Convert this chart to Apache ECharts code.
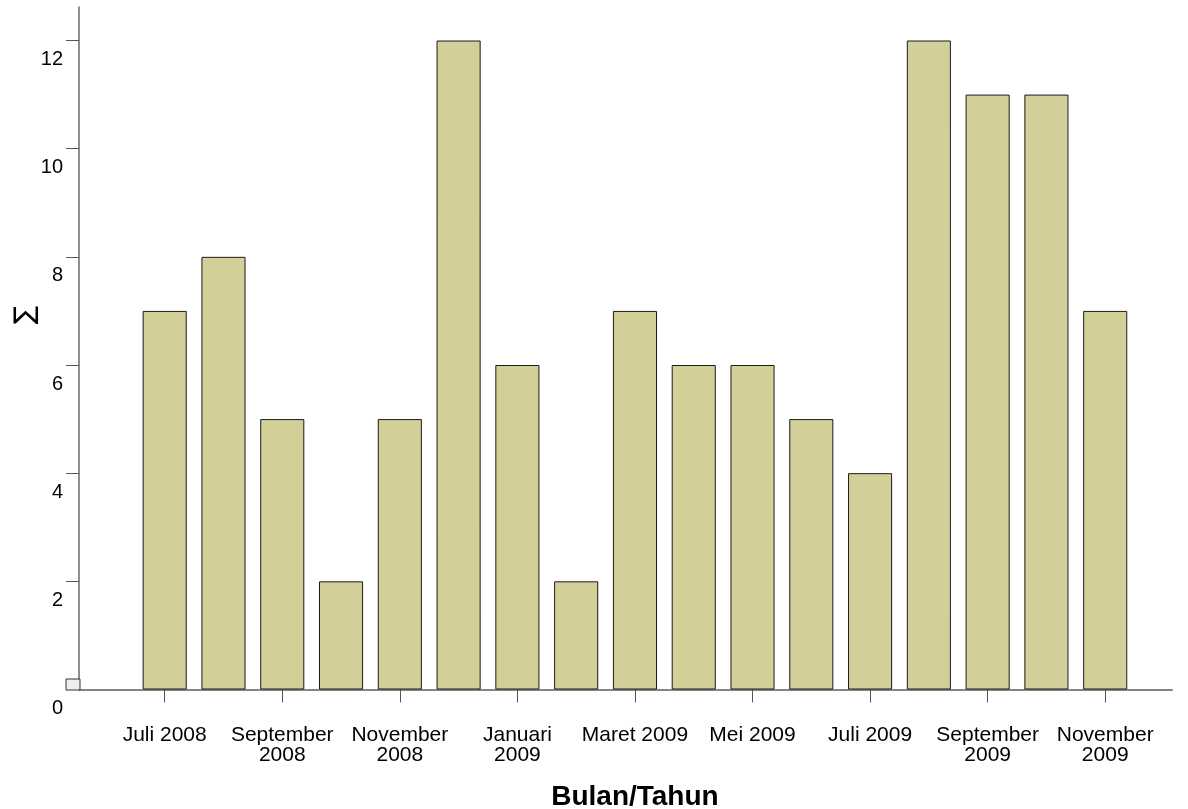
<!DOCTYPE html>
<html>
<head>
<meta charset="utf-8">
<script src="https://cdn.jsdelivr.net/npm/echarts@6/dist/echarts.min.js"></script>
<style>
html,body{margin:0;padding:0;background:#fff;}
#chart{width:1188px;height:809px;}
</style>
</head>
<body>
<div id="chart"></div>
<script>
const months = ["Juli 2008","Agustus 2008","September 2008","Oktober 2008","November 2008","Desember 2008","Januari 2009","Februari 2009","Maret 2009","April 2009","Mei 2009","Juni 2009","Juli 2009","Agustus 2009","September 2009","Oktober 2009","November 2009"];
const counts = [7, 8, 5, 2, 5, 12, 6, 2, 7, 6, 6, 5, 4, 12, 11, 11, 7];
const yTicks = [0, 2, 4, 6, 8, 10, 12];
const xTitle = "Bulan/Tahun";
const yTitle = "∑";

const FONT = "'Liberation Sans', Arial, sans-serif";
const chart = echarts.init(document.getElementById('chart'), null, {renderer: 'canvas'});
chart.setOption({
  backgroundColor: '#ffffff',
  animation: false,
  grid: [
    {left: 79, right: 16, top: 7, bottom: 119.5, containLabel: false, outerBoundsMode: 'none'},
    {left: 135.3, right: 53.4, top: 40.5, bottom: 119.5, containLabel: false, outerBoundsMode: 'none'}
  ],
  xAxis: [
    {gridIndex: 0, type: 'value', min: 0, max: 1,
     axisLine: {show: true, lineStyle: {color: '#858585', width: 2}},
     axisTick: {show: false}, axisLabel: {show: false}, splitLine: {show: false}},
    {gridIndex: 1, type: 'category', data: months, boundaryGap: true,
     axisLine: {show: false},
     axisTick: {show: true, interval: 1, alignWithLabel: true, length: 13, lineStyle: {color: '#555555', width: 1}},
     axisLabel: {interval: 1, margin: 36, fontFamily: FONT, fontSize: 21, lineHeight: 20, color: '#000',
       formatter: v => v.length > 10 ? v.replace(' ', '\n') : v},
     name: xTitle, nameLocation: 'middle', nameGap: 94,
     nameTextStyle: {fontFamily: FONT, fontSize: 28, fontWeight: 'bold', color: '#000'},
     splitLine: {show: false}}
  ],
  yAxis: [
    {gridIndex: 0, type: 'value', min: 0, max: 1,
     axisLine: {show: true, lineStyle: {color: '#6a6a6a', width: 1.5}},
     axisTick: {show: false}, axisLabel: {show: false}, splitLine: {show: false}},
    {gridIndex: 1, type: 'value', min: yTicks[0], max: yTicks[yTicks.length - 1], interval: yTicks[1] - yTicks[0],
     offset: 56.3,
     axisLine: {show: false},
     axisTick: {show: true, length: 13, lineStyle: {color: '#555555', width: 1}},
     axisLabel: {margin: 16, fontFamily: FONT, fontSize: 20, lineHeight: 20, color: '#000',
       verticalAlign: 'top', padding: [9, 0, 0, 0]},
     splitLine: {show: false}}
  ],
  graphic: [
    {type: 'rect', shape: {x: 66, y: 679, width: 14, height: 11},
     style: {fill: '#eeeeee', stroke: '#333333', lineWidth: 1}, z: 10},
    {type: 'text', x: 26, y: 315, rotation: Math.PI / 2,
     style: {text: yTitle, font: "27px 'DejaVu Sans'", fill: '#000', align: 'center', verticalAlign: 'middle'}}
  ],
  series: [{
    type: 'bar', xAxisIndex: 1, yAxisIndex: 1, data: counts,
    barCategoryGap: '25%',
    itemStyle: {color: '#D3CF98', borderColor: '#1a1a1a', borderWidth: 1}
  }]
});
</script>
</body>
</html>
